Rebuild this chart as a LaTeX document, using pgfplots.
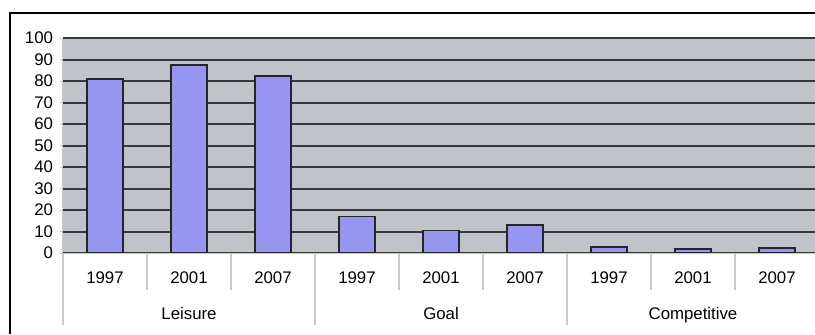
\documentclass[border=0pt]{standalone}
\usepackage{fontspec}
\setmainfont{Liberation Sans}
\usepackage{pgfplots}
\pgfplotsset{compat=1.18}
\definecolor{barfill}{RGB}{150,150,240}
\definecolor{plotbg}{RGB}{192,196,202}
\definecolor{sepgray}{RGB}{200,200,200}
\begin{document}
\fontsize{8.4}{10}\selectfont
\begin{tikzpicture}
\useasboundingbox (-31.5pt,-40.5pt) rectangle (376pt,126.5pt);
\draw[black, line width=0.8pt] (-26.5pt,-40.5pt) -- (-26.5pt,120pt) -- (376pt,120pt);
\begin{axis}[
  at={(0pt,0pt)}, anchor=south west,
  scale only axis,
  width=378pt, height=107.5pt,
  xmin=-0.5, xmax=8.5,
  ymin=0, ymax=100,
  ytick={0,10,...,100},
  xtick={0,...,8},
  xticklabels={1997,2001,2007,1997,2001,2007,1997,2001,2007},
  /pgf/number format/assume math mode=true,
  x tick label style={yshift=-5pt, font=\fontsize{8.4}{10}\selectfont},
  y tick label style={font=\fontsize{8.4}{10}\selectfont, xshift=-0.5pt},
  major x tick style={draw=none},
  major y tick style={draw=sepgray, line width=0.5pt},
  tick align=outside,
  major tick length=1.5pt,
  ymajorgrids,
  grid style={black!78, line width=1pt},
  axis background/.style={fill=plotbg},
  axis line style={draw=none},
  axis x line*=bottom, axis y line*=left,
  clip=false,
]
\addplot[ybar, bar width=0.42, fill=barfill, draw=black!85, line width=0.9pt]
coordinates {(0,81) (1,87.5) (2,82.5) (3,17) (4,10.5) (5,13) (6,2.7) (7,2) (8,2.5)};
\draw[sepgray, line width=0.5pt] (axis cs:-0.5,0) -- (axis cs:8.5,0);
\draw[sepgray, line width=0.5pt] (axis cs:-0.5,0) -- (axis cs:-0.5,100);
\pgfplotsinvokeforeach{0.5,1.5,3.5,4.5,6.5,7.5}{
  \draw[sepgray, line width=0.6pt] (axis cs:#1,0) -- ++(0pt,-18.5pt);
}
\pgfplotsinvokeforeach{-0.5,2.5,5.5}{
  \draw[sepgray, line width=0.6pt] (axis cs:#1,0) -- ++(0pt,-36pt);
}
\node[anchor=base] at ([yshift=-33pt]axis cs:1,0) {Leisure};
\node[anchor=base] at ([yshift=-33pt]axis cs:4,0) {Goal};
\node[anchor=base] at ([yshift=-33pt]axis cs:7,0) {Competitive};
\end{axis}
\end{tikzpicture}
\end{document}
